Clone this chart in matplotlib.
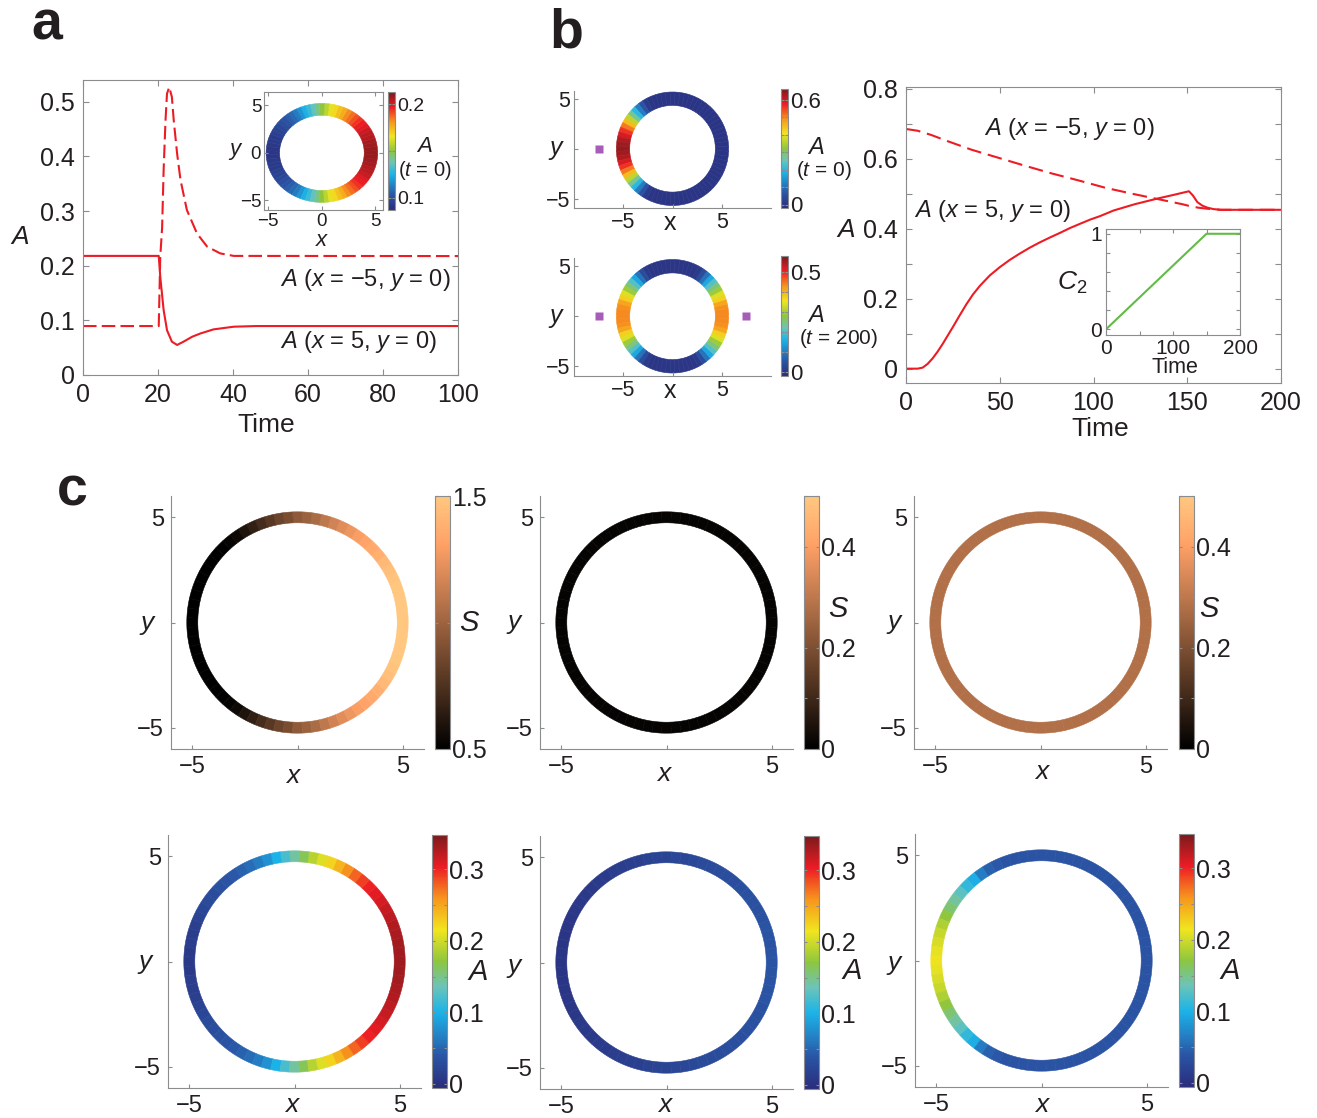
import numpy as np
import matplotlib
matplotlib.use("Agg")
import matplotlib.pyplot as plt
from matplotlib.patches import Wedge
from matplotlib.collections import PatchCollection
from matplotlib.colors import LinearSegmentedColormap, Normalize

plt.rcParams["font.family"] = ["Liberation Sans", "DejaVu Sans"]
plt.rcParams["mathtext.fontset"] = "custom"
plt.rcParams["mathtext.rm"] = "Liberation Sans"
plt.rcParams["mathtext.it"] = "Liberation Sans:italic"
plt.rcParams["mathtext.sf"] = "Liberation Sans"

# =============================================================================
# Data
# =============================================================================
# panel a : A(t) at the two poles of the ring
A_T_X5 = [0, 20.2, 20.6, 21.5, 22.4, 23.7, 25.1, 26.8, 29.1, 31.3, 34.8, 40.2, 46, 100]
A_X5 = [0.218, 0.218, 0.180, 0.119, 0.082, 0.061, 0.055, 0.061, 0.070, 0.076, 0.0835, 0.0884, 0.0896, 0.0896]
A_T_XM5 = [0, 20.2, 20.6, 21.1, 21.5, 22.0, 22.4, 23.0, 23.7, 24.2, 25.1, 26.0, 27.7, 30.4, 33.1, 36.6, 40.2, 100]
A_XM5 = [0.0896, 0.0896, 0.216, 0.27, 0.375, 0.466, 0.515, 0.527, 0.509, 0.466, 0.405, 0.357, 0.302,
         0.259, 0.235, 0.2226, 0.218, 0.2177]

# panel b : A(t) at the poles while C2 is ramped
B_T_X5 = [0, 6.2, 8.9, 11.6, 14.3, 16.9, 19.6, 22.3, 25.0, 28.6, 32.2, 35.7, 39.3, 44.6, 50, 55.4,
          60.7, 66.1, 71.4, 76.8, 82.1, 87.5, 92.8, 98.2, 103.5, 110.7, 122, 134, 143, 150.9, 153,
          155.4, 158, 160.8, 164, 167.9, 200]
B_X5 = [0.0, 0.0, 0.003, 0.014, 0.030, 0.049, 0.071, 0.095, 0.119, 0.152, 0.184, 0.212, 0.236, 0.266,
        0.290, 0.311, 0.329, 0.346, 0.361, 0.375, 0.388, 0.402, 0.414, 0.426, 0.436, 0.452, 0.470,
        0.486, 0.497, 0.507, 0.495, 0.476, 0.466, 0.460, 0.456, 0.454, 0.454]
B_T_XM5 = [0, 6.2, 13.4, 22.3, 34.8, 49.1, 63.4, 77.7, 92, 106.3, 120.6, 133.1, 147.4, 151.8, 156,
           160.8, 167.9, 200]
B_XM5 = [0.685, 0.680, 0.668, 0.650, 0.626, 0.603, 0.580, 0.558, 0.538, 0.517, 0.500, 0.486, 0.470,
         0.464, 0.460, 0.457, 0.454, 0.454]
C2_T = [0, 150, 200]
C2 = [0.0, 1.0, 1.0]

# ring values, half ring from angle 0 (x = 5) to 180 deg (x = -5) in 5 deg steps,
# the lower half is the mirror image
RING_ANG = np.arange(0, 181, 5)

A_RING_A = [0.209, 0.209, 0.208, 0.207, 0.205, 0.204, 0.202, 0.199, 0.197, 0.194, 0.190, 0.186, 0.182,
            0.177, 0.173, 0.168, 0.164, 0.157, 0.150, 0.143, 0.136, 0.130, 0.124, 0.118, 0.112, 0.108,
            0.105, 0.102, 0.100, 0.098, 0.096, 0.095, 0.093, 0.093, 0.092, 0.091, 0.091]
A_RING_B0 = [0.0, 0.0, 0.0, 0.0, 0.0, 0.0, 0.0, 0.0, 0.0, 0.0, 0.0, 0.0, 0.0, 0.0, 0.0, 0.0, 0.0, 0.0,
             0.0, 0.0, 0.0, 0.0, 0.0, 0.0, 0.014, 0.062, 0.116, 0.198, 0.272, 0.361, 0.449, 0.510,
             0.558, 0.592, 0.619, 0.633, 0.640]
A_RING_B200 = [0.436, 0.436, 0.430, 0.412, 0.376, 0.340, 0.292, 0.250, 0.202, 0.148, 0.088, 0.040, 0.010,
               0.0, 0.0, 0.0, 0.0, 0.0, 0.0, 0.0, 0.0, 0.0, 0.0, 0.0, 0.010, 0.040, 0.088, 0.148,
               0.202, 0.250, 0.292, 0.340, 0.376, 0.412, 0.430, 0.436, 0.436]
S_RING_1 = [1.50, 1.50, 1.50, 1.50, 1.49, 1.48, 1.45, 1.42, 1.38, 1.35, 1.32, 1.29, 1.25, 1.21, 1.16,
            1.10, 1.04, 0.99, 0.95, 0.89, 0.84, 0.78, 0.72, 0.66, 0.60, 0.55, 0.52, 0.50, 0.50, 0.50,
            0.50, 0.50, 0.50, 0.50, 0.50, 0.50, 0.50]
S_RING_2 = [0.01, 0.01, 0.01, 0.01, 0.01, 0.01, 0.01, 0.01, 0.01, 0.01, 0.01, 0.01, 0.01, 0.01, 0.01,
            0.01, 0.01, 0.01, 0.01, 0.01, 0.01, 0.01, 0.01, 0.01, 0.01, 0.01, 0.01, 0.01, 0.01, 0.01,
            0.01, 0.01, 0.01, 0.01, 0.01, 0.01, 0.01]
S_RING_3 = [0.28, 0.28, 0.28, 0.28, 0.28, 0.28, 0.28, 0.28, 0.28, 0.28, 0.28, 0.28, 0.28, 0.28, 0.28,
            0.28, 0.28, 0.28, 0.28, 0.28, 0.28, 0.28, 0.28, 0.28, 0.28, 0.28, 0.28, 0.28, 0.28, 0.28,
            0.28, 0.28, 0.28, 0.28, 0.28, 0.28, 0.28]
A_RING_1 = [0.334, 0.334, 0.332, 0.330, 0.327, 0.323, 0.318, 0.313, 0.307, 0.302, 0.291, 0.277, 0.260,
            0.242, 0.224, 0.206, 0.189, 0.164, 0.143, 0.121, 0.100, 0.079, 0.065, 0.054, 0.047, 0.040,
            0.036, 0.033, 0.029, 0.026, 0.022, 0.019, 0.015, 0.012, 0.012, 0.008, 0.008]
A_RING_2 = [0.036, 0.036, 0.036, 0.036, 0.036, 0.035, 0.034, 0.034, 0.033, 0.032, 0.031, 0.030, 0.029,
            0.027, 0.026, 0.025, 0.023, 0.022, 0.021, 0.019, 0.018, 0.016, 0.015, 0.014, 0.013, 0.011,
            0.010, 0.009, 0.009, 0.008, 0.007, 0.006, 0.006, 0.005, 0.005, 0.005, 0.005]
A_RING_3 = [0.036, 0.036, 0.036, 0.036, 0.036, 0.036, 0.036, 0.036, 0.036, 0.036, 0.036, 0.036, 0.036,
            0.036, 0.036, 0.036, 0.036, 0.036, 0.036, 0.036, 0.036, 0.036, 0.036, 0.040, 0.047, 0.065,
            0.097, 0.111, 0.129, 0.143, 0.157, 0.171, 0.185, 0.196, 0.203, 0.210, 0.213]

# purple markers in panel b
MARK_X_B0 = [-7.5]
MARK_X_B200 = [-7.5, 7.5]

# =============================================================================
# Styling
# =============================================================================
W, H = 1317, 1118
GRAY = "#8a8c8e"
TXT = "#231f20"
RED = "#ed1c24"
GREEN = "#62bb46"
PURPLE = "#a65cb8"

JET = LinearSegmentedColormap.from_list("printjet", [
    (0.0, "#2b2c7c"), (0.125, "#2a55a5"), (0.3, "#1bb3e8"), (0.4, "#6cc4b8"),
    (0.5, "#8dc63f"), (0.625, "#f1e51e"), (0.75, "#f7941d"), (0.875, "#ed1c24"),
    (1.0, "#7b1a1c")])
COPPER = plt.cm.copper

fig = plt.figure(figsize=(W / 100, H / 100), dpi=100)


def rect(l, t, r, b):
    return [l / W, 1 - b / H, (r - l) / W, (b - t) / H]


def put(x, y, s, size=15, **kw):
    kw.setdefault("ha", "center")
    kw.setdefault("va", "center")
    fig.text(x / W, 1 - y / H, s, fontsize=size, color=TXT, **kw)


def box_axes(ax, size):
    for s in ax.spines.values():
        s.set_color(GRAY)
        s.set_linewidth(0.8)
    ax.tick_params(which="both", direction="in", top=True, right=True, length=4,
                   width=0.8, color=GRAY, labelsize=size, labelcolor=TXT)


def open_axes(ax, size, pad=4):
    ax.spines["top"].set_visible(False)
    ax.spines["right"].set_visible(False)
    for k in ("left", "bottom"):
        ax.spines[k].set_color(GRAY)
        ax.spines[k].set_linewidth(0.8)
    ax.tick_params(direction="in", length=3, width=0.8, color=GRAY,
                   labelsize=size, labelcolor=TXT, pad=pad)


def draw_ring(ax, half, r_out, width, cmap, norm):
    half = list(half)
    vals = half + half[-2:0:-1]
    angs = list(RING_ANG) + list(360 - RING_ANG[-2:0:-1])
    wedges = [Wedge((0, 0), r_out, a - 2.5, a + 2.5, width=width) for a in angs]
    pc = PatchCollection(wedges, cmap=cmap, norm=norm, edgecolor="face", linewidth=0.4)
    pc.set_array(np.array(vals))
    ax.add_collection(pc)
    return pc


def colorbar(pc, cax_rect, ticks, labels, size=13):
    cax = fig.add_axes(rect(*cax_rect))
    cb = fig.colorbar(pc, cax=cax)
    cb.set_ticks(ticks, labels=labels)
    cb.outline.set_edgecolor(GRAY)
    cb.outline.set_linewidth(0.8)
    cax.tick_params(direction="in", length=2.5, width=0.8, color=GRAY, left=True, right=True,
                    labelsize=size, labelcolor=TXT, pad=1.5)
    return cb


# =============================================================================
# Panel a
# =============================================================================
ax = fig.add_axes(rect(83, 80, 458, 375))
ax.plot(A_T_X5, A_X5, color=RED, lw=1.5)
ax.plot(A_T_XM5, A_XM5, color=RED, lw=1.5, dashes=(6.5, 2.5))
ax.set_xlim(0, 100)
ax.set_ylim(0, 0.54)
ax.set_xticks([0, 20, 40, 60, 80, 100])
ax.set_yticks([0, 0.1, 0.2, 0.3, 0.4, 0.5], ["0", "0.1", "0.2", "0.3", "0.4", "0.5"])
box_axes(ax, 18)
ax.tick_params(axis="x", pad=6)
ax.tick_params(axis="y", pad=6)
put(20, 237, "A", 19, style="italic")
put(266, 425, "Time", 19)
put(451, 280, "$A$ ($x$ = \u22125, $y$ = 0)", 17, ha="right")
put(437, 342, "$A$ ($x$ = 5, $y$ = 0)", 17, ha="right")

ins = fig.add_axes(rect(264, 92, 383, 210))
ins.set_facecolor("white")
pc = draw_ring(ins, A_RING_A, 5.2, 1.25, JET, Normalize(0.087, 0.213))
ins.set_xlim(-5.4, 5.7)
ins.set_ylim(-6.0, 6.4)
ins.set_xticks([-5, 0, 5], ["\u22125", "0", "5"])
ins.set_yticks([-5, 0, 5], ["\u22125", "0", "5"])
box_axes(ins, 13.5)
ins.tick_params(length=3, pad=2)
put(235, 150, "y", 16, style="italic")
put(321, 241, "x", 16, style="italic")
colorbar(pc, (388, 92, 395, 210), [0.1, 0.15, 0.2], ["0.1", "", "0.2"], 14)
put(425, 147, "A", 16, style="italic")
put(425, 170, "($t$ = 0)", 14.5)

# =============================================================================
# Panel b : rings
# =============================================================================
for vals, mx, top, bot, ylim, vmax, cbt, cbl, lab_t, lab_dx, lab_y in [
        (A_RING_B0, MARK_X_B0, 91, 208, (-5.95, 5.8), 0.66,
         [0, 0.1, 0.2, 0.3, 0.4, 0.5, 0.6], ["0", "", "", "", "", "", "0.6"], "($t$ = 0)", 8, 148),
        (A_RING_B200, MARK_X_B200, 258, 376, (-6.0, 5.85), 0.58,
         [0, 0.1, 0.2, 0.3, 0.4, 0.5], ["0", "", "", "", "", "0.5"], "($t$ = 200)", 22, 316)]:
    axr = fig.add_axes(rect(574, top, 771, bot))
    axr.patch.set_alpha(0)
    pc = draw_ring(axr, vals, 5.7, 1.35, JET, Normalize(-0.02, vmax))
    axr.plot(mx, [0] * len(mx), "s", color=PURPLE, ms=6, mec="none")
    axr.set_xlim(-10, 10)
    axr.set_ylim(*ylim)
    axr.set_xticks([-5, 0, 5], ["\u22125", "", "5"])
    axr.set_yticks([-5, 0, 5], ["\u22125", "", "5"])
    open_axes(axr, 15.5, pad=3)
    put(556, lab_y, "y", 18, style="italic")
    put(670, bot + 15, "x", 18)
    colorbar(pc, (781, top - 2, 788, bot), cbt, cbl, 16)
    put(816, lab_y - 1, "A", 17, style="italic")
    put(816 + lab_dx, lab_y + 23, lab_t, 15)

# =============================================================================
# Panel b : time course
# =============================================================================
ax = fig.add_axes(rect(906, 87, 1281, 383))
ax.plot(B_T_X5, B_X5, color=RED, lw=1.5)
ax.plot(B_T_XM5, B_XM5, color=RED, lw=1.5, dashes=(7, 3.3))
ax.set_xlim(0, 200)
ax.set_ylim(-0.041, 0.805)
ax.set_xticks([0, 50, 100, 150, 200])
ax.set_yticks([0, 0.2, 0.4, 0.6, 0.8], ["0", "0.2", "0.4", "0.6", "0.8"])
ax.set_yticks([0.1, 0.3, 0.5, 0.7], minor=True)
box_axes(ax, 18)
ax.tick_params(axis="x", pad=6)
ax.tick_params(axis="y", pad=6)
put(846, 230, "A", 19, style="italic")
put(1100, 429, "Time", 19)
put(984, 129, "$A$ ($x$ = \u22125, $y$ = 0)", 17, ha="left")
put(914, 211, "$A$ ($x$ = 5, $y$ = 0)", 17, ha="left")

ins = fig.add_axes(rect(1106, 229, 1240, 335))
ins.plot(C2_T, C2, color=GREEN, lw=1.5)
ins.set_xlim(0, 200)
ins.set_ylim(-0.06, 1.05)
ins.set_xticks([0, 100, 200])
ins.set_xticks([50, 150], minor=True)
ins.set_yticks([0, 1])
ins.set_yticks([0.2, 0.4, 0.6, 0.8], minor=True)
box_axes(ins, 15)
ins.tick_params(which="both", length=3, pad=3)
put(1072, 283, "$C_2$", 19)
put(1175, 368, "Time", 15.5)

# =============================================================================
# Panel c
# =============================================================================
S_NORM_1 = Normalize(0.5, 1.5)
S_NORM_2 = Normalize(0.0, 0.5)
A_NORM = Normalize(-0.006, 0.348)
S_TICKS_1 = ([0.5, 1.0, 1.5], ["0.5", "", "1.5"])
S_TICKS_2 = ([0, 0.1, 0.2, 0.3, 0.4, 0.5], ["0", "", "0.2", "", "0.4", ""])
A_TICKS = ([0, 0.05, 0.1, 0.15, 0.2, 0.25, 0.3], ["0", "", "0.1", "", "0.2", "", "0.3"])

c_panels = [
    # values, cmap, norm, ticks, label, axes (left, top), cbar left, ylab xy, xlab xy, cbar label xy
    (S_RING_1, COPPER, S_NORM_1, S_TICKS_1, "S", (171, 496), 435, (147, 623), (293, 776), (469, 623)),
    (S_RING_2, COPPER, S_NORM_2, S_TICKS_2, "S", (540, 496), 804, (514, 622), (664, 774), (838, 609)),
    (S_RING_3, COPPER, S_NORM_2, S_TICKS_2, "S", (914, 496), 1179, (894, 622), (1042, 772), (1209, 609)),
    (A_RING_1, JET, A_NORM, A_TICKS, "A", (168, 835), 432, (145, 962), (292, 1105), (478, 972)),
    (A_RING_2, JET, A_NORM, A_TICKS, "A", (540, 836), 804, (514, 966), (665, 1105), (852, 971)),
    (A_RING_3, JET, A_NORM, A_TICKS, "A", (915, 834), 1179, (894, 963), (1042, 1105), (1230, 971)),
]

for vals, cmap, norm, (cbt, cbl), clab, (l, t), cl, ylab, xlab, cblab in c_panels:
    axc = fig.add_axes(rect(l, t, l + 253, t + 253))
    axc.patch.set_alpha(0)
    pc = draw_ring(axc, vals, 5.25, 0.52, cmap, norm)
    axc.set_xlim(-6, 6)
    axc.set_ylim(-6, 6)
    axc.set_xticks([-5, 0, 5], ["\u22125", "", "5"])
    axc.set_yticks([-5, 0, 5], ["\u22125", "", "5"])
    open_axes(axc, 17, pad=5)
    put(*ylab, "y", 19, style="italic")
    put(*xlab, "x", 19, style="italic")
    colorbar(pc, (cl, t, cl + 15, t + 253), cbt, cbl, 18)
    put(*cblab, clab, 21, style="italic")

# panel letters
put(47, 25, "a", 40, weight="bold")
put(566, 33, "b", 40, weight="bold")
put(72, 492, "c", 40, weight="bold")

fig.savefig("out.png", dpi=100, facecolor="white")
